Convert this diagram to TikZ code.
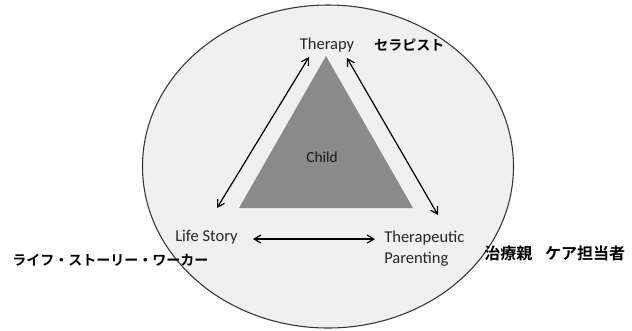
\documentclass[tikz,border=0pt]{standalone}
\usepackage{fontspec}
\setmainfont{Carlito}
\newfontfamily\jpfont{Noto Sans CJK JP Bold}
\usetikzlibrary{arrows.meta,shapes.geometric}
\definecolor{outerfill}{HTML}{F0F0F0}
\definecolor{trifill}{HTML}{8A8A8A}
\tikzset{
  lbl/.style={font=\fontsize{12.4}{14}\selectfont, inner sep=0pt, text=black!85},
  jplbl/.style={font=\jpfont\fontsize{10.5}{12}\selectfont, inner sep=0pt},
  link/.style={line width=0.9pt, {Straight Barb[length=5pt,width=6pt]}-{Straight Barb[length=5pt,width=6pt]}},
}
\begin{document}
\begin{tikzpicture}[x=0.75pt,y=-0.75pt]
\useasboundingbox (0,0) rectangle (632,330);
% outer ellipse
\node[ellipse, draw=black!80, line width=0.8pt, fill=outerfill, minimum width=371*0.75pt, minimum height=323*0.75pt, inner sep=0pt] (outer) at (328,166.5) {};
% triangle
\coordinate (apex) at (326,56);
\coordinate (bl) at (239,208);
\coordinate (br) at (413,208);
\fill[trifill] (apex) -- (bl) -- (br) -- cycle;
\node[lbl, font=\fontsize{11.5}{13}\selectfont, text=black!90] (child) at (322,157) {Child};
% labels
\node[lbl] (therapy) at (327,45) {Therapy};
\node[jplbl, anchor=west] (therapyjp) at (374,45) {セラピスト};
\node[lbl, anchor=west] (life) at (175,237) {Life Story};
\node[jplbl, anchor=west] (lifejp) at (12,260) {ライフ・ストーリー・ワーカー};
\node[lbl, anchor=base west, align=left, font=\fontsize{12.4}{15.75}\selectfont] (parent) at (384,263) {Therapeutic\\Parenting};
\node[jplbl, anchor=west, font=\jpfont\fontsize{12}{13}\selectfont] (parentjp) at (484,253) {治療親\hspace{0.8em}ケア担当者};
% arrows
\coordinate (a1s) at (217,208);
\coordinate (a1e) at (309,57);
\coordinate (a2s) at (347,58);
\coordinate (a2e) at (438,215);
\coordinate (a3s) at (253,239);
\coordinate (a3e) at (375,239);
\draw[link] (a1s) -- (a1e);
\draw[link] (a2s) -- (a2e);
\draw[link] (a3s) -- (a3e);
\end{tikzpicture}
\end{document}
